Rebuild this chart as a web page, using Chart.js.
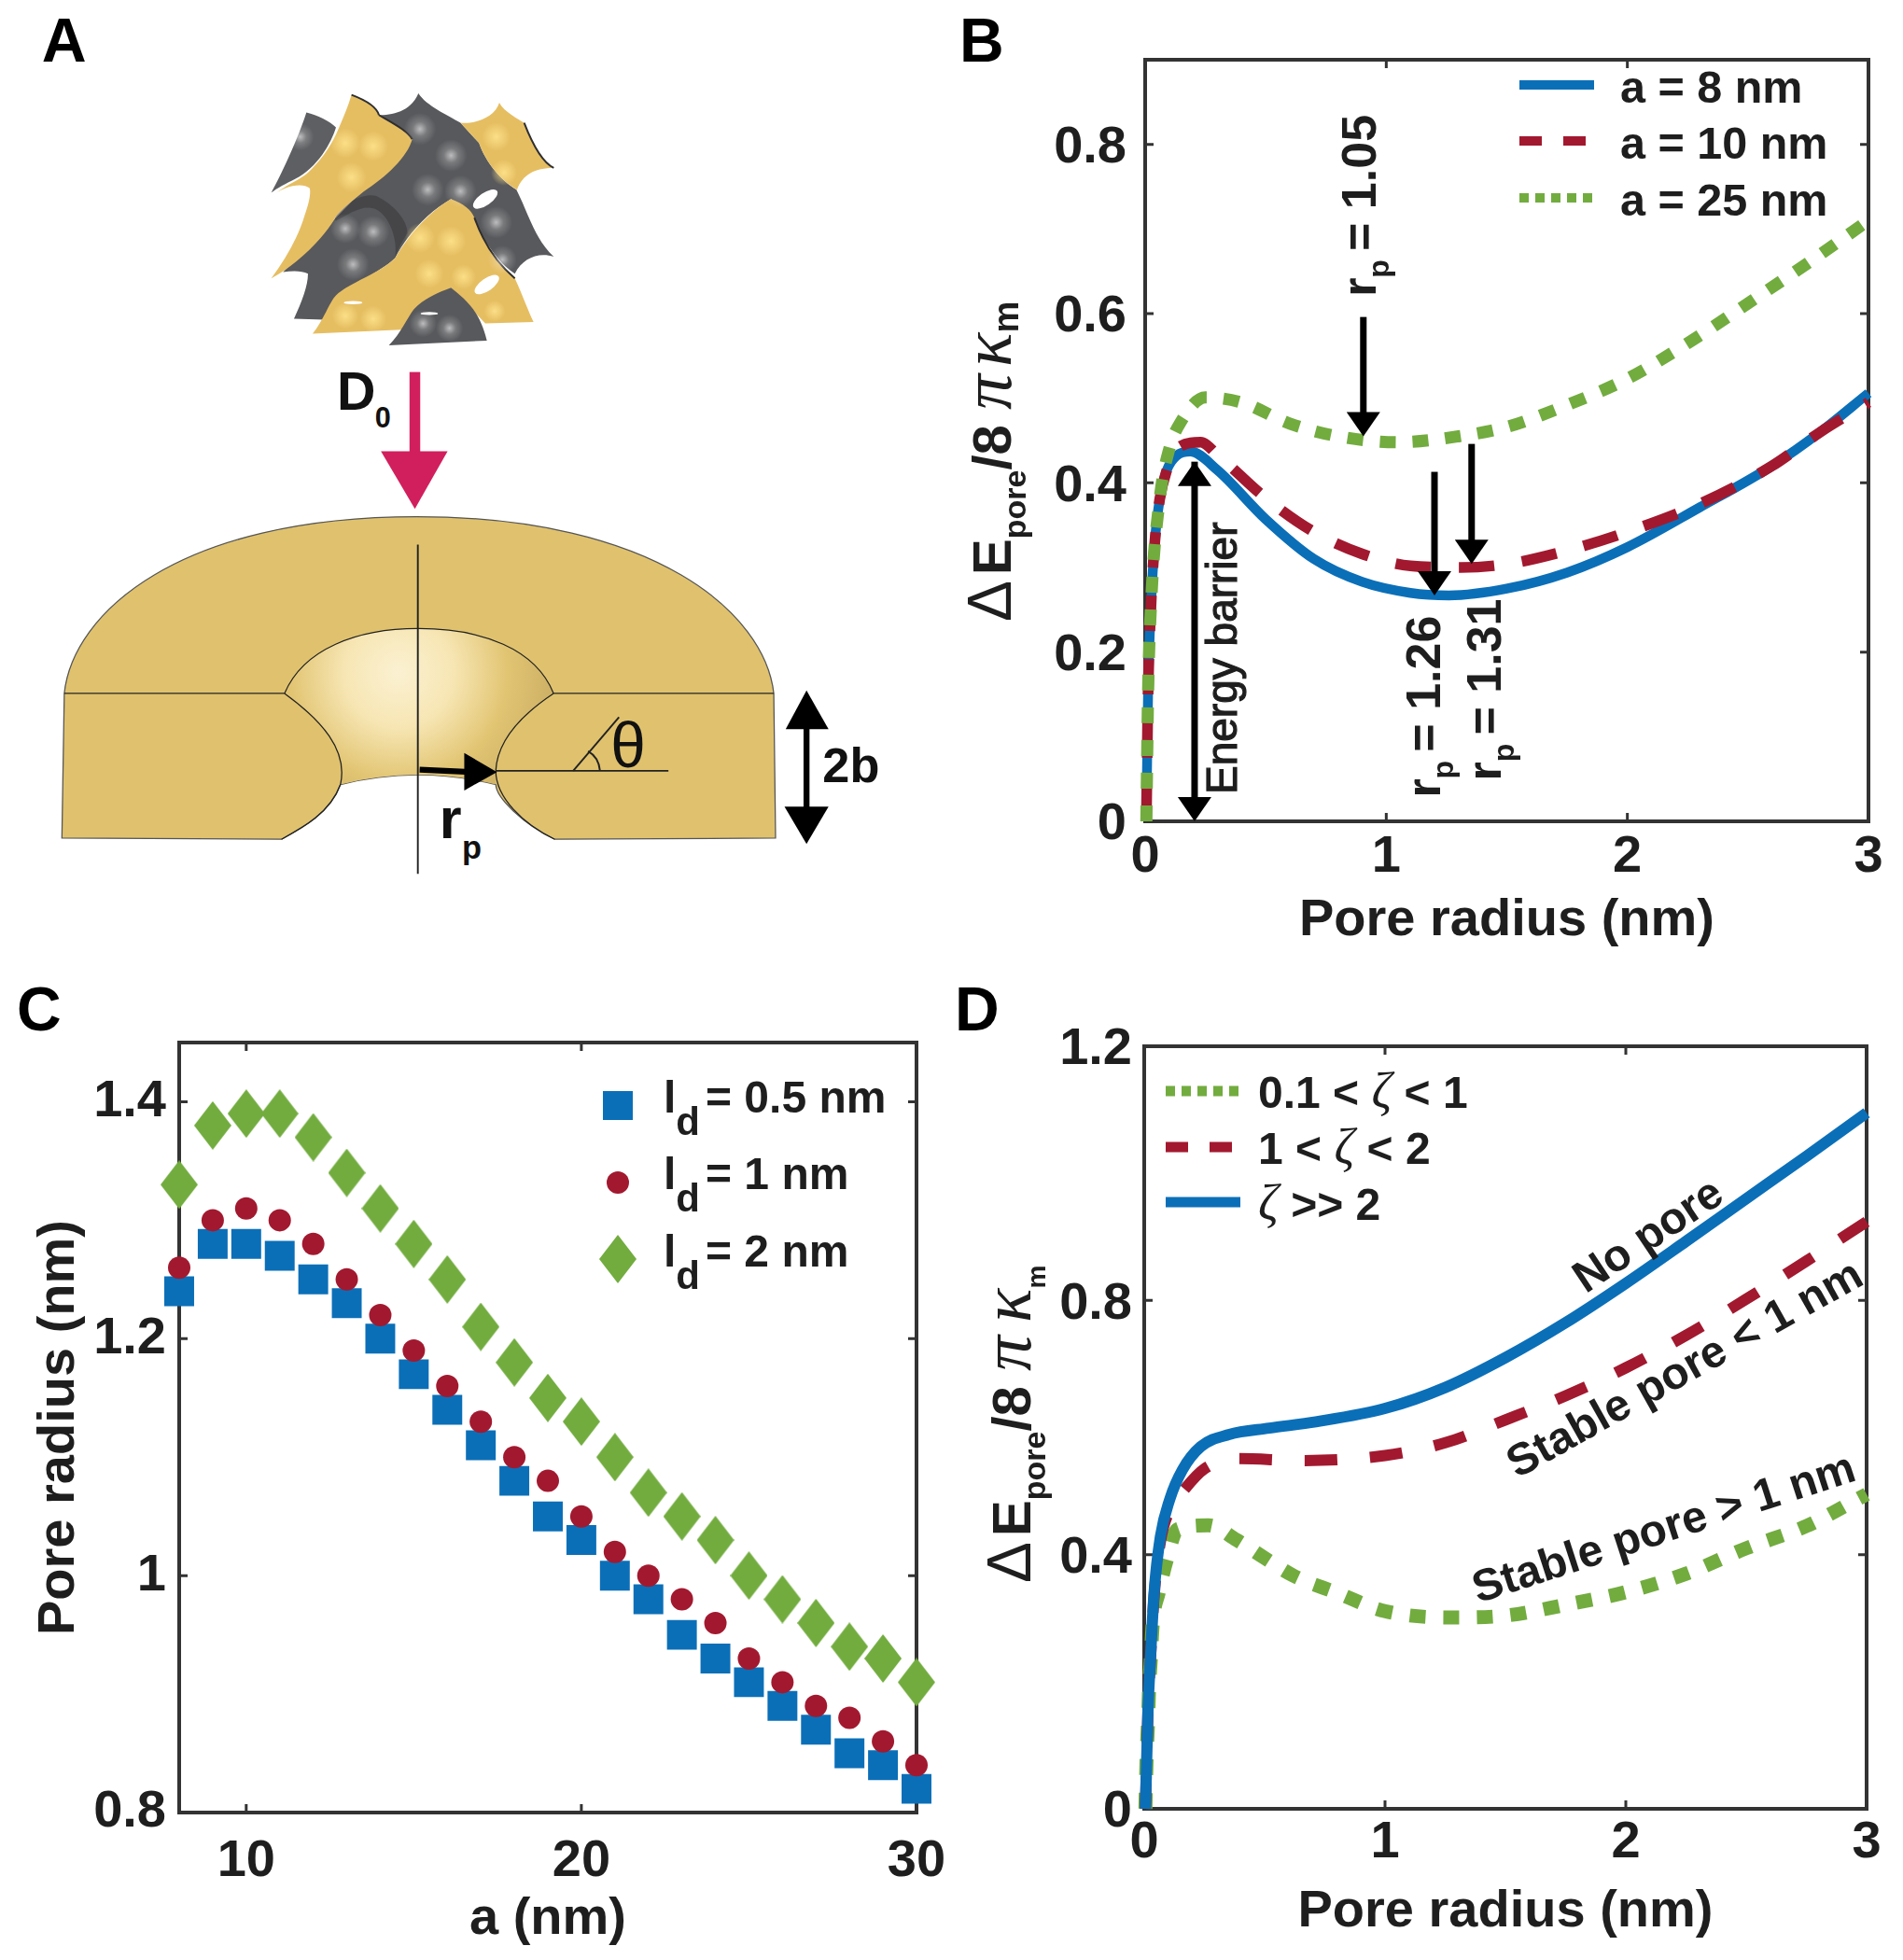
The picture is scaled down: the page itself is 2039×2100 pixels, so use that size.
<!DOCTYPE html>
<html>
<head>
<meta charset="utf-8">
<title>Pore energy panels</title>
<script src="https://cdn.jsdelivr.net/npm/chart.js@4"></script>
<style>
  html, body { margin: 0; padding: 0; background: #fff; }
  #page { position: relative; width: 2039px; height: 2100px; overflow: hidden; }
  #page canvas, #page svg { position: absolute; }
  #panelA { left: 0; top: 0; }
  #panelB { left: 1000px; top: 0; }
  #panelC { left: 0; top: 1040px; }
  #panelD { left: 1018px; top: 1040px; }
</style>
</head>
<body>
<div id="page">
  <!-- Panel A is an illustration, not data. Drawn in zoomed units -->
  <svg id="panelA" width="1000" height="1000" viewBox="0 0 1568 1568" font-family="Liberation Sans, Arial, sans-serif">
    <defs>
      <radialGradient id="glow" cx="50%" cy="50%" r="50%">
        <stop offset="0%" stop-color="#fff" stop-opacity=".6"/>
        <stop offset="45%" stop-color="#fff" stop-opacity=".2"/>
        <stop offset="100%" stop-color="#fff" stop-opacity="0"/>
      </radialGradient>
      <radialGradient id="goldGlow" cx="50%" cy="50%" r="50%">
        <stop offset="0%" stop-color="#FFE58E" stop-opacity=".85"/>
        <stop offset="100%" stop-color="#FFE58E" stop-opacity="0"/>
      </radialGradient>
      <radialGradient id="holeFill" gradientUnits="userSpaceOnUse" cx="670" cy="1130" r="260">
        <stop offset="0%" stop-color="#FBF1D2"/>
        <stop offset="35%" stop-color="#F7E6B4"/>
        <stop offset="70%" stop-color="#E2C573"/>
        <stop offset="100%" stop-color="#CDB064"/>
      </radialGradient>
    </defs>

    <!-- gyroid cube, traced in its own crop units -->
    <g transform="translate(439 141) scale(.5227)">
      <path fill="#5E5F62" d="M145 92 C180 100 220 120 240 140 C225 190 180 270 110 305 C80 320 50 335 32 350 C70 280 120 170 145 92Z"/>
      <path fill="#58595C" d="M375 100 C420 100 480 90 505 30 C530 70 600 100 640 125 L700 190 C720 250 770 310 820 340 C860 420 880 500 940 555 C890 540 840 560 815 610 C770 580 740 540 700 470 L610 370 C540 410 470 480 430 560 C380 610 280 640 220 720 L200 758 L105 755 C130 700 150 650 150 610 C130 600 100 600 70 605 L235 435 L485 178Z"/>
      <path fill="#3A3A3C" d="M235 435 C260 380 330 350 370 360 C430 390 470 440 470 480 C450 510 440 530 430 560 C440 480 400 410 360 400 C320 390 280 420 240 440Z" opacity=".6"/>
      <path fill="#E6BE62" d="M290 35 C330 50 370 70 378 100 C420 125 470 150 485 178 C470 235 400 300 330 345 C280 385 240 420 235 435 C190 510 100 590 32 625 C80 560 120 490 140 420 C155 380 160 345 155 335 C130 315 70 330 32 362 C90 315 130 310 165 270 C200 235 230 190 250 140 C265 105 280 70 290 35Z"/>
      <path fill="#E6BE62" d="M640 125 C680 130 750 110 765 60 C780 90 830 115 845 125 C870 190 900 250 940 270 C880 270 840 290 822 340 C770 310 720 250 700 190Z"/>
      <path fill="#E6BE62" d="M610 370 C650 385 675 405 685 430 C710 500 750 570 815 625 C840 680 860 735 875 765 L720 770 L610 655 L450 790 L165 803 C200 760 220 700 240 680 C280 640 380 610 430 560 C470 490 540 410 610 370Z"/>
      <path fill="#58595C" d="M610 655 C650 690 700 720 725 825 L410 840 C450 800 470 750 490 725 C520 690 570 670 610 655Z"/>
      <g fill="none" stroke="#2E2E30" stroke-width="6">
        <path d="M378 100 C420 125 470 150 485 178"/>
        <path d="M845 125 C870 190 900 250 940 270"/>
        <path d="M685 430 C710 500 750 570 815 625"/>
        <path d="M290 35 C330 50 370 70 378 100"/>
      </g>
      <ellipse cx="720" cy="370" rx="46" ry="20" transform="rotate(-35 720 370)" fill="#fff"/>
      <ellipse cx="725" cy="645" rx="46" ry="20" transform="rotate(-35 725 645)" fill="#fff"/>
      <ellipse cx="295" cy="703" rx="30" ry="5" fill="#fff"/>
      <ellipse cx="540" cy="738" rx="28" ry="5" fill="#fff"/>
      <g fill="url(#glow)">
        <circle cx="510" cy="145" r="52"/><circle cx="610" cy="230" r="52"/><circle cx="535" cy="340" r="52"/>
        <circle cx="640" cy="345" r="52"/><circle cx="755" cy="445" r="52"/><circle cx="775" cy="565" r="46"/>
        <circle cx="360" cy="475" r="52"/><circle cx="270" cy="465" r="48"/><circle cx="295" cy="580" r="52"/>
        <circle cx="520" cy="770" r="44"/><circle cx="605" cy="785" r="44"/><circle cx="125" cy="170" r="44"/>
      </g>
      <g fill="url(#goldGlow)">
        <circle cx="270" cy="190" r="48"/><circle cx="360" cy="200" r="48"/><circle cx="290" cy="300" r="48"/>
        <circle cx="510" cy="495" r="48"/><circle cx="610" cy="505" r="48"/><circle cx="540" cy="610" r="46"/>
        <circle cx="650" cy="620" r="40"/><circle cx="755" cy="170" r="46"/><circle cx="780" cy="285" r="42"/>
        <circle cx="270" cy="745" r="42"/><circle cx="360" cy="755" r="42"/><circle cx="750" cy="730" r="34"/>
      </g>
    </g>

    <!-- pink arrow -->
    <rect x="688" y="625" width="18" height="135" fill="#D11F5D"/>
    <path fill="#D11F5D" d="M640 758 L752 758 L697 855Z"/>
    <text x="566" y="688" font-size="90" font-weight="700" fill="#111">D</text>
    <text x="630" y="718" font-size="48" font-weight="700" fill="#111">0</text>

    <!-- membrane with a pore -->
    <path fill="#E0C26E" stroke="#555" stroke-width="2" d="M108 1165 C122 1030 300 868 700 868 C1100 868 1285 1030 1300 1165 L1303 1408 L932 1410 C880 1385 833 1340 833 1318 Q700 1285 572 1318 C555 1365 510 1390 473 1410 L104 1408 Z"/>
    <path fill="url(#holeFill)" d="M478 1165 C510 1090 600 1056 703 1056 C810 1056 900 1090 930 1165 C870 1205 835 1250 833 1295 L833 1318 Q700 1285 572 1318 C585 1260 540 1210 478 1165Z"/>
    <g fill="none" stroke="#222" stroke-width="2">
      <path d="M478 1165 C510 1090 600 1056 703 1056 C810 1056 900 1090 930 1165"/>
      <path d="M108 1165 L478 1165 C540 1210 585 1260 572 1318 C555 1365 510 1390 473 1410"/>
      <path d="M1300 1165 L930 1165 C870 1205 835 1250 833 1295 C833 1340 880 1385 932 1410"/>
      <path d="M702 915 L702 1468" stroke-width="3"/>
      <path d="M833 1295 L1123 1295" stroke-width="3"/>
      <path d="M963 1295 L1040 1205" stroke-width="3"/>
      <path d="M1008 1295 Q1006 1272 988 1262" stroke-width="3"/>
    </g>
    <path d="M705 1293 L790 1297" stroke="#000" stroke-width="10"/>
    <path fill="#000" d="M780 1265 L835 1297 L780 1328Z"/>
    <text x="1026" y="1289" font-size="106" fill="#111">θ</text>
    <text x="738" y="1408" font-size="96" font-weight="700" fill="#111">r</text>
    <text x="776" y="1442" font-size="54" font-weight="700" fill="#111">p</text>

    <!-- 2b arrow -->
    <rect x="1350" y="1220" width="10" height="140" fill="#000"/>
    <path fill="#000" d="M1355 1160 L1320 1225 L1392 1225Z"/>
    <path fill="#000" d="M1355 1418 L1318 1355 L1392 1355Z"/>
    <text x="1382" y="1314" font-size="82" font-weight="700" fill="#111">2b</text>

    <text x="70" y="104" font-size="104" font-weight="700" fill="#000">A</text>
  </svg>

  <canvas id="panelB" width="1039" height="1040"></canvas>
  <canvas id="panelC" width="1018" height="1060"></canvas>
  <canvas id="panelD" width="1021" height="1060"></canvas>
</div>

<script>
// ─── Panel B data ─────────────────────────────────────
const radiusB8 = [0.005, 0.012, 0.025, 0.04, 0.06, 0.09, 0.13, 0.187, 0.3, 0.5, 0.7, 0.9, 1.1, 1.26, 1.5, 1.75, 2, 2.3, 2.6, 2.8, 3];
const energyB8 = [0, 0.15, 0.26, 0.33, 0.38, 0.415, 0.432, 0.437, 0.415, 0.357, 0.31, 0.283, 0.27, 0.267, 0.275, 0.294, 0.324, 0.371, 0.42, 0.46, 0.506];
const radiusB10 = [0.005, 0.012, 0.025, 0.04, 0.06, 0.09, 0.13, 0.23, 0.3, 0.5, 0.7, 0.9, 1.1, 1.31, 1.5, 1.75, 2, 2.3, 2.6, 2.8, 3];
const energyB10 = [0, 0.15, 0.26, 0.33, 0.38, 0.415, 0.44, 0.448, 0.433, 0.382, 0.342, 0.316, 0.302, 0.3, 0.304, 0.32, 0.342, 0.375, 0.42, 0.46, 0.495];
const radiusB25 = [0.005, 0.012, 0.025, 0.06, 0.1, 0.15, 0.25, 0.4, 0.6, 0.8, 1.05, 1.3, 1.5, 1.75, 2, 2.25, 2.5, 2.75, 3];
const energyB25 = [0, 0.15, 0.26, 0.38, 0.44, 0.473, 0.501, 0.495, 0.47, 0.455, 0.448, 0.455, 0.466, 0.492, 0.523, 0.565, 0.612, 0.66, 0.71];
const xTicksB = [0, 1, 2, 3];
const yTicksB = [0, 0.2, 0.4, 0.6, 0.8];

// ─── Panel C data ─────────────────────────────────────
const latticeC = [8, 9, 10, 11, 12, 13, 14, 15, 16, 17, 18, 19, 20, 21, 22, 23, 24, 25, 26, 27, 28, 29, 30];
const poreC05 = [1.24, 1.28, 1.28, 1.27, 1.25, 1.23, 1.20, 1.17, 1.14, 1.11, 1.08, 1.05, 1.03, 1.00, 0.98, 0.95, 0.93, 0.91, 0.89, 0.87, 0.85, 0.84, 0.82];
const poreC1 = [1.26, 1.30, 1.31, 1.30, 1.28, 1.25, 1.22, 1.19, 1.16, 1.13, 1.10, 1.08, 1.05, 1.02, 1.00, 0.98, 0.96, 0.93, 0.91, 0.89, 0.88, 0.86, 0.84];
const poreC2 = [1.33, 1.38, 1.39, 1.39, 1.37, 1.34, 1.31, 1.28, 1.25, 1.21, 1.18, 1.15, 1.13, 1.10, 1.07, 1.05, 1.03, 1.00, 0.98, 0.96, 0.94, 0.93, 0.91];
const xTicksC = [10, 20, 30];
const yTicksC = [0.8, 1, 1.2, 1.4];

// ─── Panel D data ─────────────────────────────────────
const radiusDGreen = [0.005, 0.01, 0.0155, 0.02, 0.028, 0.035, 0.06, 0.093, 0.138, 0.267, 0.384, 0.503, 0.619, 0.8, 1, 1.27, 1.5, 1.75, 2, 2.25, 2.5, 2.75, 3];
const energyDGreen = [0, 0.082, 0.133, 0.187, 0.24, 0.29, 0.34, 0.391, 0.44, 0.446, 0.423, 0.394, 0.367, 0.34, 0.311, 0.301, 0.304, 0.321, 0.341, 0.37, 0.41, 0.445, 0.495];
const radiusDRed = [0.005, 0.0155, 0.028, 0.041, 0.067, 0.106, 0.17, 0.25, 0.39, 0.66, 1, 1.25, 1.5, 1.75, 2, 2.25, 2.5, 2.75, 3];
const energyDRed = [0, 0.154, 0.25, 0.335, 0.42, 0.47, 0.504, 0.535, 0.551, 0.548, 0.556, 0.576, 0.612, 0.65, 0.694, 0.745, 0.802, 0.862, 0.924];
const radiusDBlue = [0.005, 0.0155, 0.028, 0.041, 0.067, 0.106, 0.158, 0.235, 0.352, 0.519, 0.713, 1, 1.25, 1.5, 1.75, 2, 2.25, 2.5, 2.75, 3];
const energyDBlue = [0, 0.154, 0.252, 0.34, 0.428, 0.487, 0.533, 0.57, 0.589, 0.599, 0.609, 0.63, 0.663, 0.71, 0.765, 0.827, 0.893, 0.96, 1.027, 1.095];
const xTicksD = [0, 1, 2, 3];
const yTicksD = [0, 0.4, 0.8, 1.2];

// ─── Shared styles ────────────────────────────────────
const BLUE = "#0B6FB8";
const RED = "#A2192F";
const GREEN = "#72AC3F";
const FRAME = "#333333";
const INK = "#1E1E1E";
const SANS = '"Liberation Sans", Arial, sans-serif';
const SERIF = '"Liberation Serif", serif';
const bold = size => `bold ${size}px ${SANS}`;

Chart.defaults.font.family = SANS;

function points(xs, ys) {
  return xs.map((x, i) => ({ x, y: ys[i] }));
}

function curve(xs, ys, color, width, dash) {
  return {
    data: points(xs, ys),
    showLine: true,
    borderColor: color,
    backgroundColor: color,
    borderWidth: width,
    borderDash: dash,
    pointRadius: 0,
    cubicInterpolationMode: "monotone",
    clip: false,
  };
}

// Runs of text with mixed fonts, sub/superscripts shifted by dy
function drawRuns(ctx, x, y, angle, runs) {
  ctx.save();
  ctx.translate(x, y);
  ctx.rotate(angle * Math.PI / 180);
  ctx.fillStyle = INK;
  ctx.strokeStyle = INK;
  ctx.textBaseline = "alphabetic";
  ctx.textAlign = "left";
  let cx = 0;
  runs.forEach(r => {
    ctx.font = r.font;
    ctx.fillText(r.text, cx, r.dy || 0);
    if (r.heavy) {
      ctx.lineWidth = r.heavy;
      ctx.strokeText(r.text, cx, r.dy || 0);
    }
    cx += ctx.measureText(r.text).width + (r.gap || 0);
  });
  ctx.restore();
}

function drawArrow(ctx, x, y1, y2, both) {
  const dir = y2 > y1 ? 1 : -1;
  const head = (yTip, d) => {
    ctx.beginPath();
    ctx.moveTo(x, yTip);
    ctx.lineTo(x - 18, yTip - d * 26);
    ctx.lineTo(x + 18, yTip - d * 26);
    ctx.closePath();
    ctx.fill();
  };
  ctx.save();
  ctx.fillStyle = "#000";
  ctx.fillRect(x - 3.5, Math.min(y1, y2), 7, Math.abs(y2 - y1) - 10);
  head(y2, dir);
  if (both) head(y1, -dir);
  ctx.restore();
}

function legendLine(ctx, x1, x2, y, color, dash, width) {
  ctx.save();
  ctx.strokeStyle = color;
  ctx.lineWidth = width || 10;
  ctx.setLineDash(dash || []);
  ctx.beginPath();
  ctx.moveTo(x1, y);
  ctx.lineTo(x2, y);
  ctx.stroke();
  ctx.restore();
}

// Box round the plot with inward ticks on all four sides (MATLAB look)
const frameBox = {
  id: "frameBox",
  beforeDatasetsDraw(chart) {
    const { ctx, chartArea: a, scales: { x, y } } = chart;
    ctx.save();
    ctx.strokeStyle = FRAME;
    ctx.lineWidth = 4;
    ctx.strokeRect(a.left, a.top, a.right - a.left, a.bottom - a.top);
    ctx.lineWidth = 3;
    ctx.beginPath();
    x.ticks.forEach(t => {
      const px = x.getPixelForValue(t.value);
      ctx.moveTo(px, a.bottom); ctx.lineTo(px, a.bottom - 9);
      ctx.moveTo(px, a.top); ctx.lineTo(px, a.top + 9);
    });
    y.ticks.forEach(t => {
      const py = y.getPixelForValue(t.value);
      ctx.moveTo(a.left, py); ctx.lineTo(a.left + 9, py);
      ctx.moveTo(a.right, py); ctx.lineTo(a.right - 9, py);
    });
    ctx.stroke();
    ctx.restore();
  },
};

function axisOptions(cfg) {
  const tickFont = { size: 56, weight: "bold" };
  const titleFont = { size: 56, weight: "bold" };
  const fixed = (ticks, pad) => ({
    afterBuildTicks: s => { s.ticks = ticks.map(value => ({ value })); },
    grid: { display: false, drawTicks: false },
    border: { display: false },
    ticks: {
      color: INK, font: tickFont, padding: pad, autoSkip: false, maxRotation: 0,
      callback: v => String(v),
    },
  });
  const x = Object.assign(fixed(cfg.xTicks, cfg.xPad), {
    type: "linear", min: cfg.xMin, max: cfg.xMax,
    afterFit: s => { s.height = cfg.below; s.paddingLeft = 0; s.paddingRight = 0; },
    title: { display: true, text: cfg.xTitle, color: INK, font: titleFont, padding: { top: 0, bottom: cfg.xTitlePad } },
  });
  const y = Object.assign(fixed(cfg.yTicks, cfg.yPad), {
    type: "linear", min: cfg.yMin, max: cfg.yMax,
    afterFit: s => { s.width = cfg.left; s.paddingTop = 0; s.paddingBottom = 0; },
    title: cfg.yTitle
      ? { display: true, text: cfg.yTitle, color: INK, font: titleFont, padding: { top: cfg.yTitlePad, bottom: 0 } }
      : { display: false },
  });
  y.ticks.labelOffset = cfg.yLabelOffset || 0;
  return { x, y };
}

function makeChart(id, datasets, cfg, overlay) {
  return new Chart(document.getElementById(id), {
    type: "scatter",
    data: { datasets },
    options: {
      responsive: false,
      animation: false,
      devicePixelRatio: 1,
      layout: { padding: { top: cfg.top, right: cfg.right, left: 0, bottom: 0 } },
      plugins: { legend: { display: false }, tooltip: { enabled: false } },
      scales: axisOptions(cfg),
    },
    plugins: [frameBox, { id: "overlay", afterDraw: overlay }],
  });
}

function subRuns(size, value) {
  return [
    { text: "r", font: bold(size) },
    { text: "p", font: bold(size * 0.62), dy: 14, gap: 9 },
    { text: "= " + value, font: bold(size) },
  ];
}

function energyTitle(sub, subDy, gap) {
  return [
    { text: "Δ", font: `66px ${SANS}`, gap: 6 },
    { text: "E", font: bold(58) },
    { text: "pore", font: bold(34), dy: 16 },
    { text: "/8 ", font: bold(58) },
    { text: "π", font: `italic 76px ${SERIF}`, gap: gap },
    { text: "κ", font: `italic 76px ${SERIF}` },
    { text: "m", font: bold(sub), dy: subDy },
  ];
}

// ─── Panel B ──────────────────────────────────────────
// Chart.js paints the first dataset last, so the top curve goes first
makeChart("panelB", [
  curve(radiusB25, energyB25, GREEN, 13, [17, 18]),
  curve(radiusB10, energyB10, RED, 11.5, [38, 30]),
  curve(radiusB8, energyB8, BLUE, 10.5),
], {
  top: 64, right: 37, left: 227, below: 160,
  xMin: 0, xMax: 3, yMin: 0, yMax: 0.9,
  xTicks: xTicksB, yTicks: yTicksB, xPad: 5, yPad: 20, yLabelOffset: 4,
  xTitle: "Pore radius (nm)", xTitlePad: 20,
}, chart => {
  const { ctx, scales: { x, y } } = chart;
  drawRuns(ctx, 83, 666, -90, energyTitle(38, 8, 8));
  ctx.save();
  ctx.font = bold(66);
  ctx.fillStyle = "#000";
  ctx.fillText("B", 28, 66);
  ctx.restore();

  drawArrow(ctx, x.getPixelForValue(0.205), y.getPixelForValue(0), y.getPixelForValue(0.425), true);
  drawArrow(ctx, x.getPixelForValue(0.905), y.getPixelForValue(0.596), y.getPixelForValue(0.455));
  drawArrow(ctx, x.getPixelForValue(1.2), y.getPixelForValue(0.413), y.getPixelForValue(0.267));
  drawArrow(ctx, x.getPixelForValue(1.354), y.getPixelForValue(0.446), y.getPixelForValue(0.304));

  drawRuns(ctx, x.getPixelForValue(0.381), y.getPixelForValue(0.032), -90, [{ text: "Energy barrier", font: `46px ${SANS}`, heavy: 1.2 }]);
  drawRuns(ctx, x.getPixelForValue(0.957), y.getPixelForValue(0.62), -90, subRuns(52, "1.05"));
  drawRuns(ctx, x.getPixelForValue(1.224), y.getPixelForValue(0.028), -90, subRuns(52, "1.26"));
  drawRuns(ctx, x.getPixelForValue(1.475), y.getPixelForValue(0.048), -90, subRuns(52, "1.31"));

  legendLine(ctx, 628, 708, 91, BLUE);
  legendLine(ctx, 628, 708, 151, RED, [24, 23]);
  legendLine(ctx, 628, 708, 212, GREEN, [10, 7]);
  drawRuns(ctx, 736, 110, 0, [{ text: "a = 8 nm", font: bold(48.5) }]);
  drawRuns(ctx, 736, 170, 0, [{ text: "a = 10 nm", font: bold(48.5) }]);
  drawRuns(ctx, 736, 231, 0, [{ text: "a = 25 nm", font: bold(48.5) }]);
});

// ─── Panel C ──────────────────────────────────────────
// MATLAB diamonds are taller than wide, so the marker is a small canvas
function diamondMarker(w, h, color) {
  const c = document.createElement("canvas");
  c.width = w;
  c.height = h;
  const g = c.getContext("2d");
  g.fillStyle = color;
  g.beginPath();
  g.moveTo(w / 2, 0);
  g.lineTo(w, h / 2);
  g.lineTo(w / 2, h);
  g.lineTo(0, h / 2);
  g.closePath();
  g.fill();
  return c;
}

const diamond = diamondMarker(40, 52, GREEN);

function markers(ys, color, style, radius) {
  return {
    data: points(latticeC, ys),
    pointStyle: style,
    pointRadius: radius,
    pointBackgroundColor: color,
    pointBorderWidth: 0,
    clip: false,
  };
}

makeChart("panelC", [
  markers(poreC1, RED, "circle", 12),
  markers(poreC05, BLUE, "rect", 22.6),
  markers(poreC2, GREEN, diamond, 20),
], {
  top: 77, right: 36, left: 192, below: 158,
  xMin: 8, xMax: 30, yMin: 0.8, yMax: 1.45,
  xTicks: xTicksC, yTicks: yTicksC, xPad: 19, yPad: 14,
  xTitle: "a (nm)", xTitlePad: 10,
  yTitle: "Pore radius (nm)", yTitlePad: 30,
}, chart => {
  const { ctx } = chart;
  ctx.save();
  ctx.font = bold(66);
  ctx.fillStyle = "#000";
  ctx.fillText("C", 18, 64);

  ctx.fillStyle = BLUE;
  ctx.fillRect(646, 129, 32, 31);
  ctx.fillStyle = RED;
  ctx.beginPath();
  ctx.arc(662, 227, 12, 0, Math.PI * 2);
  ctx.fill();
  ctx.drawImage(diamond, 642, 283);
  ctx.restore();

  [["= 0.5 nm", 152], ["= 1 nm", 234], ["= 2 nm", 316.5]].forEach(([label, base]) => {
    drawRuns(ctx, 711, base, 0, [
      { text: "l", font: bold(48) },
      { text: "d", font: bold(42), dy: 24, gap: 6 },
      { text: label, font: bold(48) },
    ]);
  });
});

// ─── Panel D ──────────────────────────────────────────
makeChart("panelD", [
  curve(radiusDBlue, energyDBlue, BLUE, 12),
  curve(radiusDRed, energyDRed, RED, 12, [35, 35]),
  curve(radiusDGreen, energyDGreen, GREEN, 15, [17, 19]),
], {
  top: 81, right: 39, left: 208, below: 162,
  xMin: 0, xMax: 3, yMin: 0, yMax: 1.2,
  xTicks: xTicksD, yTicks: yTicksD, xPad: 3, yPad: 13, yLabelOffset: 4,
  xTitle: "Pore radius (nm)", xTitlePad: 18,
}, chart => {
  const { ctx, scales: { x, y } } = chart;
  drawRuns(ctx, 86, 656, -90, energyTitle(28, 16, 14));
  ctx.save();
  ctx.font = bold(66);
  ctx.fillStyle = "#000";
  ctx.fillText("D", 5, 64);
  ctx.restore();

  legendLine(ctx, 231, 311, 129, GREEN, [10, 7], 11);
  legendLine(ctx, 231, 311, 189, RED, [24, 23], 11);
  legendLine(ctx, 231, 311, 248, BLUE, [], 11);

  const zeta = { text: "ζ", font: `italic 54px ${SERIF}` };
  const b48 = bold(48);
  drawRuns(ctx, 330, 147, 0, [{ text: "0.1 < ", font: b48 }, zeta, { text: " < 1", font: b48 }]);
  drawRuns(ctx, 330, 207, 0, [{ text: "1 < ", font: b48 }, zeta, { text: " < 2", font: b48 }]);
  drawRuns(ctx, 330, 267, 0, [zeta, { text: " >> 2", font: b48 }]);

  const tilted = (xv, yv, angle, text) => {
    ctx.save();
    ctx.translate(x.getPixelForValue(xv), y.getPixelForValue(yv));
    ctx.rotate(angle * Math.PI / 180);
    ctx.font = bold(48);
    ctx.fillStyle = INK;
    ctx.textAlign = "center";
    ctx.textBaseline = "middle";
    ctx.fillText(text, 0, 0);
    ctx.restore();
  };
  tilted(2.097, 0.90, -33.7, "No pore");
  tilted(2.248, 0.69, -29.3, "Stable pore < 1 nm");
  tilted(2.16, 0.439, -18, "Stable pore > 1 nm");
});
</script>
</body>
</html>
